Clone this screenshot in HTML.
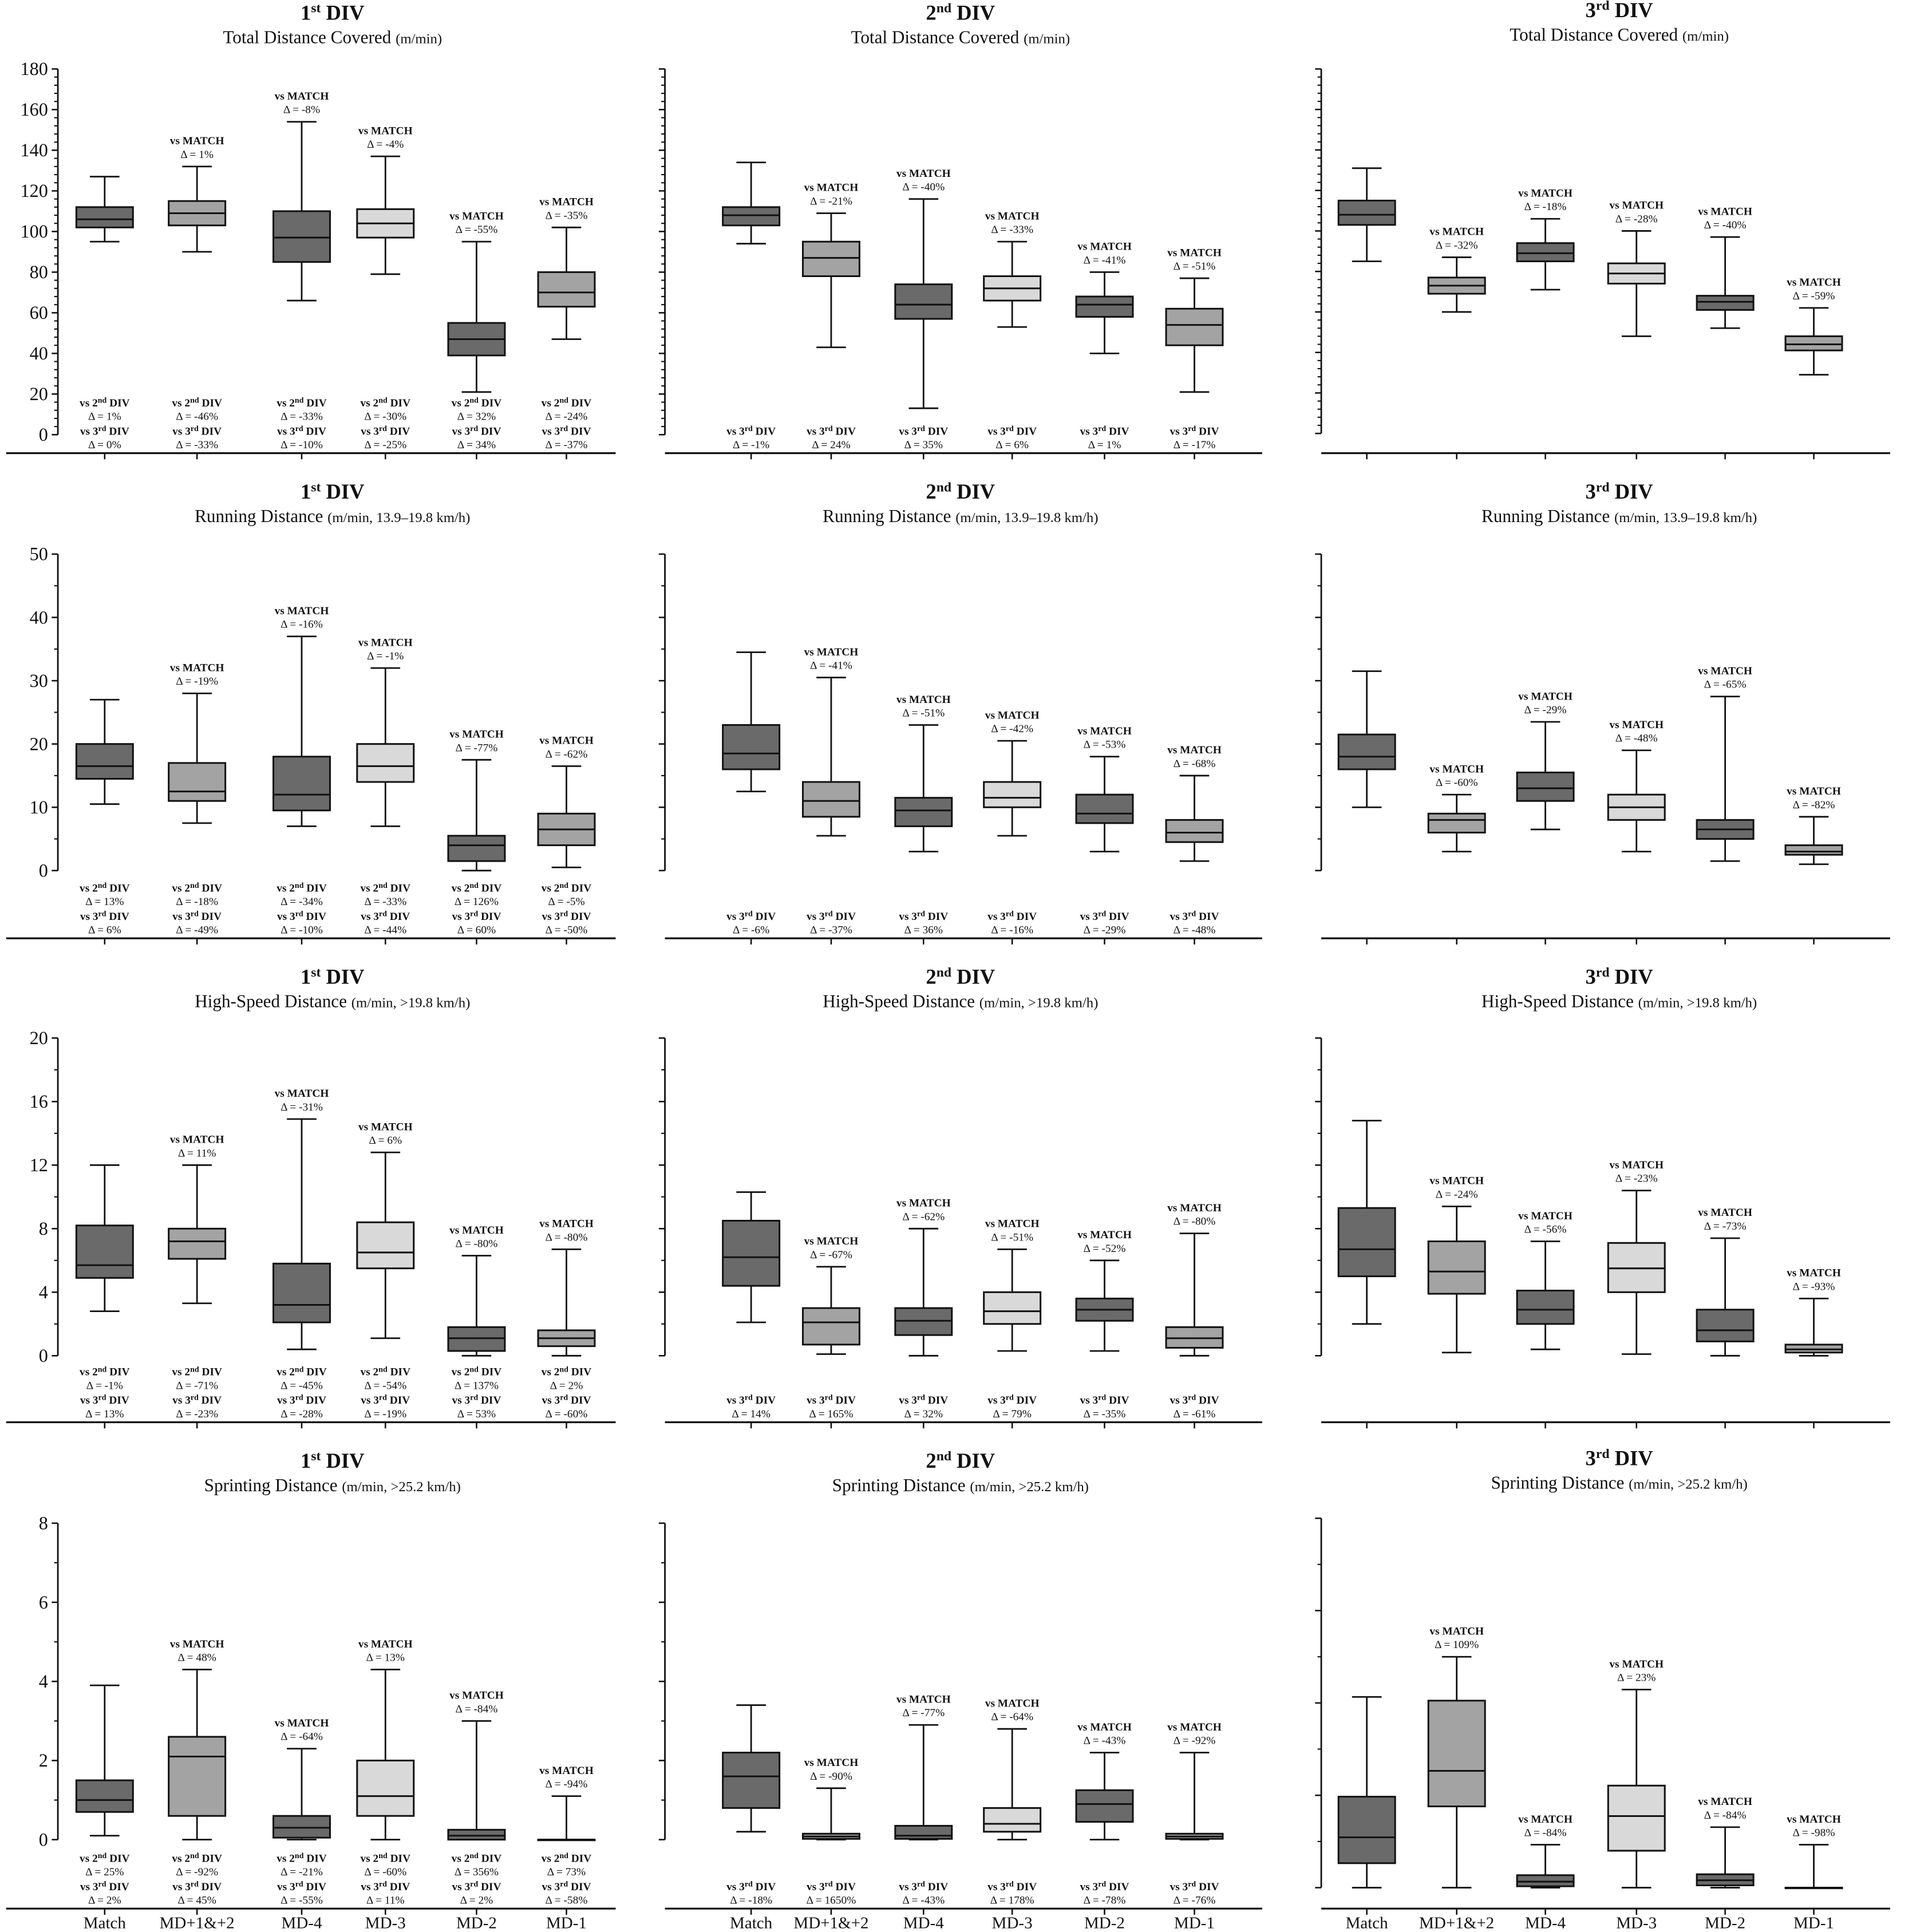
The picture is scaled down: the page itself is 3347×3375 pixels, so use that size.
<!DOCTYPE html>
<html><head><meta charset="utf-8">
<style>
html,body{margin:0;padding:0;background:#fff;}
svg{display:block;}
text{font-family:"Liberation Serif","DejaVu Serif",serif;fill:#111;}
</style></head>
<body>
<svg id="fig" width="3347" height="3375" viewBox="0 0 1556 1569" font-family="Liberation Serif, DejaVu Serif, serif" xmlns="http://www.w3.org/2000/svg"></svg>
<script>
const categories = ["Match","MD+1&+2","MD-4","MD-3","MD-2","MD-1"];
const divisions = ["1st","2nd","3rd"];
const metrics = ["Total Distance Covered","Running Distance","High-Speed Distance","Sprinting Distance"];
const metricUnits = ["(m/min)","(m/min, 13.9–19.8 km/h)","(m/min, >19.8 km/h)","(m/min, >25.2 km/h)"];
const tickLabelsTD = [0,20,40,60,80,100,120,140,160,180];
const tickLabelsRD = [0,10,20,30,40,50];
const tickLabelsHSD = [0,4,8,12,16,20];
const tickLabelsSD = [0,2,4,6,8];
// [min, q1, median, q3, max]
const tdDiv1 = [[95,102,106,112,127],[90,103,109,115,132],[66,85,97,110,154],[79,97,104,111,137],[21,39,47,55,95],[47,63,70,80,102]];
const tdDiv2 = [[94,103,108,112,134],[43,78,87,95,109],[13,57,64,74,116],[53,66,72,78,95],[40,58,64,68,80],[21,44,54,62,77]];
const tdDiv3 = [[85,103,108,115,131],[60,69,73,77,87],[71,85,89,94,106],[48,74,79,84,100],[52,61,65,68,97],[29,41,44,48,62]];
const rdDiv1 = [[10.5,14.5,16.5,20,27],[7.5,11,12.5,17,28],[7,9.5,12,18,37],[7,14,16.5,20,32],[0,1.5,4,5.5,17.5],[0.5,4,6.5,9,16.5]];
const rdDiv2 = [[12.5,16,18.5,23,34.5],[5.5,8.5,11,14,30.5],[3,7,9.5,11.5,23],[5.5,10,11.5,14,20.5],[3,7.5,9,12,18],[1.5,4.5,6,8,15]];
const rdDiv3 = [[10,16,18,21.5,31.5],[3,6,8,9,12],[6.5,11,13,15.5,23.5],[3,8,10,12,19],[1.5,5,6.5,8,27.5],[1,2.5,3,4,8.5]];
const hsdDiv1 = [[2.8,4.9,5.7,8.2,12],[3.3,6.1,7.2,8,12],[0.4,2.1,3.2,5.8,14.9],[1.1,5.5,6.5,8.4,12.8],[0,0.3,1.1,1.8,6.3],[0,0.6,1.1,1.6,6.7]];
const hsdDiv2 = [[2.1,4.4,6.2,8.5,10.3],[0.1,0.7,2.1,3,5.6],[0,1.3,2.2,3,8],[0.3,2,2.8,4,6.7],[0.3,2.2,2.9,3.6,6],[0,0.5,1.1,1.8,7.7]];
const hsdDiv3 = [[2,5,6.7,9.3,14.8],[0.2,3.9,5.3,7.2,9.4],[0.4,2,2.9,4.1,7.2],[0.1,4,5.5,7.1,10.4],[0,0.9,1.6,2.9,7.4],[0,0.2,0.4,0.7,3.6]];
const sdDiv1 = [[0.1,0.7,1,1.5,3.9],[0,0.6,2.1,2.6,4.3],[0,0.05,0.3,0.6,2.3],[0,0.6,1.1,2,4.3],[0,0,0.1,0.25,3],[0,0,0,0,1.1]];
const sdDiv2 = [[0.2,0.8,1.6,2.2,3.4],[0,0.02,0.08,0.15,1.3],[0,0.02,0.1,0.35,2.9],[0,0.2,0.4,0.8,2.8],[0,0.45,0.9,1.25,2.2],[0,0.02,0.08,0.15,2.2]];
const sdDiv3 = [[0,0.53,1.09,1.97,4.13],[0,1.76,2.53,4.05,5.0],[0,0.03,0.13,0.27,0.93],[0,0.8,1.55,2.21,4.29],[0,0.05,0.16,0.29,1.31],[0,0,0,0,0.93]];
// delta labels
const tdVsMatch = [["1%","-8%","-4%","-55%","-35%"],["-21%","-40%","-33%","-41%","-51%"],["-32%","-18%","-28%","-40%","-59%"]];
const rdVsMatch = [["-19%","-16%","-1%","-77%","-62%"],["-41%","-51%","-42%","-53%","-68%"],["-60%","-29%","-48%","-65%","-82%"]];
const hsdVsMatch = [["11%","-31%","6%","-80%","-80%"],["-67%","-62%","-51%","-52%","-80%"],["-24%","-56%","-23%","-73%","-93%"]];
const sdVsMatch = [["48%","-64%","13%","-84%","-94%"],["-90%","-77%","-64%","-43%","-92%"],["109%","-84%","23%","-84%","-98%"]];
const tdVs2nd = ["1%","-46%","-33%","-30%","32%","-24%"];
const tdVs3rd1 = ["0%","-33%","-10%","-25%","34%","-37%"];
const tdVs3rd2 = ["-1%","24%","35%","6%","1%","-17%"];
const rdVs2nd = ["13%","-18%","-34%","-33%","126%","-5%"];
const rdVs3rd1 = ["6%","-49%","-10%","-44%","60%","-50%"];
const rdVs3rd2 = ["-6%","-37%","36%","-16%","-29%","-48%"];
const hsdVs2nd = ["-1%","-71%","-45%","-54%","137%","2%"];
const hsdVs3rd1 = ["13%","-23%","-28%","-19%","53%","-60%"];
const hsdVs3rd2 = ["14%","165%","32%","79%","-35%","-61%"];
const sdVs2nd = ["25%","-92%","-21%","-60%","356%","73%"];
const sdVs3rd1 = ["2%","45%","-55%","11%","2%","-58%"];
const sdVs3rd2 = ["-18%","1650%","-43%","178%","-78%","-76%"];

const NS="http://www.w3.org/2000/svg";
const svg=document.getElementById('fig');
const FF="Liberation Serif, DejaVu Serif, serif";
function mk(tag,attrs,parent){const e=document.createElementNS(NS,tag);for(const k in attrs)e.setAttribute(k,attrs[k]);if(tag==='text')e.setAttribute('font-family',FF);(parent||svg).appendChild(e);return e;}
const fills=["#6a6a6a","#a3a3a3","#6a6a6a","#d9d9d9","#6a6a6a","#a3a3a3"];
const colAxisX=[47,540,1073];
const colCenters=[[85,160,245,313,387,460],[610,675,750,822,897,970],[1110,1183,1255,1329,1401,1473]];
const colRight=[500,1025,1535];
const titleX=[270,780,1315];

const rows=[
 {data:[tdDiv1,tdDiv2,tdDiv3],ticks:tickLabelsTD,max:180,zero:[353,353,352],top:[56,56,56],base:368,title:[16,16,14],minor:4,vm:tdVsMatch,v2:tdVs2nd,v31:tdVs3rd1,v32:tdVs3rd2},
 {data:[rdDiv1,rdDiv2,rdDiv3],ticks:tickLabelsRD,max:50,zero:[707,707,707],top:[450,450,450],base:762,title:[405,405,405],minor:1,vm:rdVsMatch,v2:rdVs2nd,v31:rdVs3rd1,v32:rdVs3rd2},
 {data:[hsdDiv1,hsdDiv2,hsdDiv3],ticks:tickLabelsHSD,max:20,zero:[1101,1101,1101],top:[843,843,843],base:1155,title:[799,799,799],minor:1,vm:hsdVsMatch,v2:hsdVs2nd,v31:hsdVs3rd1,v32:hsdVs3rd2},
 {data:[sdDiv1,sdDiv2,sdDiv3],ticks:tickLabelsSD,max:8,zero:[1494,1494,1533],top:[1237,1237,1233],base:1550,title:[1192,1192,1190],minor:1,vm:sdVsMatch,v2:sdVs2nd,v31:sdVs3rd1,v32:sdVs3rd2}
];

function divTitle(g,x,y,d){
  const t=mk('text',{x:x,y:y,'text-anchor':'middle','font-size':17,'font-weight':'bold'},g);
  
  
  t.appendChild(document.createTextNode(d[0]));
  const s=mk('tspan',{'font-size':11,dy:-6},t); s.textContent=d.slice(1);
  const r=mk('tspan',{dy:6},t); r.textContent=' DIV';
}
function divLabel(g,x,y,txt,sup){
  const t=mk('text',{x:x,y:y,'text-anchor':'middle','font-size':9,'font-weight':'bold'},g);
  
  
  t.appendChild(document.createTextNode('vs '+txt));
  const s=mk('tspan',{'font-size':6.5,dy:-3},t); s.textContent=sup;
  const r=mk('tspan',{dy:3},t); r.textContent=' DIV';
}
function deltaLabel(g,x,y,v){
  const t=mk('text',{x:x,y:y,'text-anchor':'middle','font-size':9},g);
  
  
  t.textContent='Δ = '+v;
}

rows.forEach((R,ri)=>{
  for(let c=0;c<3;c++){
    const g=mk('g',{});
    
    
    const z=R.zero[c], tp=R.top[c];
    const yS=v=>z-(v/R.max)*(z-tp);
    const ax=colAxisX[c];
    divTitle(g,titleX[c],R.title[c],divisions[c]);
    const st=mk('text',{x:titleX[c],y:R.title[c]+19,'text-anchor':'middle','font-size':14.5},g);
    
    
    st.appendChild(document.createTextNode(metrics[ri]+' '));
    const us=mk('tspan',{'font-size':11.5},st); us.textContent=metricUnits[ri];
    const yl=mk('line',{x1:ax,y1:tp,x2:ax,y2:z,stroke:'#111','stroke-width':1.3},g);
    
    
    const nt=R.ticks.length;
    for(let i=0;i<nt;i++){
      const y=tp+(z-tp)*(nt-1-i)/(nt-1);
      const tk=mk('line',{x1:ax-5,y1:y,x2:ax,y2:y,stroke:'#111','stroke-width':1.2},g);
      
      
      if(c===0){
        const tl=mk('text',{x:ax-8,y:y+5,'text-anchor':'end','font-size':15},g);
        
        
        tl.textContent=R.ticks[i];
      }
      if(i<nt-1){
        const step=(z-tp)/(nt-1);
        for(let m=1;m<=R.minor;m++){
          const my=y-step*m/(R.minor+1);
          const mt=mk('line',{x1:ax-3,y1:my,x2:ax,y2:my,stroke:'#111','stroke-width':1},g);
          
          
        }
      }
    }
    const bl=mk('line',{x1:c===0?5:ax,y1:R.base,x2:colRight[c],y2:R.base,stroke:'#111','stroke-width':1.5},g);
    
    
    const D=R.data[c];
    D.forEach((b,i)=>{
      const cx=colCenters[c][i];
      const tk=mk('line',{x1:cx,y1:R.base,x2:cx,y2:R.base+5,stroke:'#111','stroke-width':1.2},g);
      
      
      const w=23;
      const bg=mk('g',{},g);
      
      
      const ymin=yS(b[0]),yq1=yS(b[1]),ymed=yS(b[2]),yq3=yS(b[3]),ymax=yS(b[4]);
      mk('line',{x1:cx,y1:ymax,x2:cx,y2:ymin,stroke:'#111','stroke-width':1.3},bg);
      mk('line',{x1:cx-12,y1:ymax,x2:cx+12,y2:ymax,stroke:'#111','stroke-width':1.3},bg);
      mk('line',{x1:cx-12,y1:ymin,x2:cx+12,y2:ymin,stroke:'#111','stroke-width':1.3},bg);
      mk('rect',{x:cx-w,y:yq3,width:2*w,height:Math.max(yq1-yq3,0.5),fill:fills[i],stroke:'#111','stroke-width':1.4},bg);
      mk('line',{x1:cx-w,y1:ymed,x2:cx+w,y2:ymed,stroke:'#111','stroke-width':1.4},bg);
      if(i>0){
        const t=mk('text',{x:cx,y:ymax-18,'text-anchor':'middle','font-size':9,'font-weight':'bold'},g);
        
        
        t.textContent='vs MATCH';
        deltaLabel(g,cx,ymax-7,R.vm[c][i-1]);
      }
      if(c===0){
        divLabel(g,cx,R.base-38,'2','nd');
        deltaLabel(g,cx,R.base-27,R.v2[i]);
        divLabel(g,cx,R.base-15,'3','rd');
        deltaLabel(g,cx,R.base-4,R.v31[i]);
      } else if(c===1){
        divLabel(g,cx,R.base-15,'3','rd');
        deltaLabel(g,cx,R.base-4,R.v32[i]);
      }
      if(ri===3){
        const xl=mk('text',{x:cx,y:1566,'text-anchor':'middle','font-size':13.5},g);
        
        
        xl.textContent=categories[i];
      }
    });
  }
});
</script>
</body></html>
